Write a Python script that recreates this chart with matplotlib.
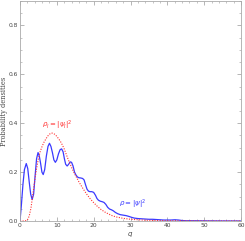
import matplotlib
matplotlib.use("Agg")
import matplotlib.pyplot as plt
from matplotlib.ticker import MultipleLocator

# Blue: rho = |psi|^2
q_blue = [0, 0.4, 0.8, 1.2, 1.7, 2.1, 2.5, 2.9, 3.3, 3.7, 4.1, 4.5, 4.9, 5.25, 5.6, 5.95,
          6.3, 6.7, 7.15, 7.6, 8.0, 8.4, 8.8, 9.2, 9.6, 10.0, 10.45, 10.9, 11.3, 11.7, 12.05,
          12.4, 12.8, 13.2, 13.6, 14.0, 14.4, 14.8, 15.2, 15.6, 16.0, 16.5, 17.0, 17.4, 17.8,
          18.2, 18.6, 19.0, 19.5, 20.0, 20.5, 20.9, 21.3, 21.8, 22.3, 22.8, 23.3, 23.8, 24.3,
          24.8, 25.3, 25.9, 26.5, 27.2, 28.0, 28.8, 29.5, 30.3, 31.0, 32, 33, 34, 35, 36, 37,
          38, 39, 40, 41, 42, 43, 44, 45, 47, 50, 55, 60]
p_blue = [0, 0.07, 0.15, 0.21, 0.235, 0.215, 0.16, 0.11, 0.088, 0.11, 0.185, 0.255, 0.28,
          0.265, 0.235, 0.2, 0.19, 0.21, 0.265, 0.305, 0.318, 0.305, 0.28, 0.25, 0.24, 0.25,
          0.275, 0.292, 0.295, 0.283, 0.255, 0.232, 0.225, 0.232, 0.242, 0.24, 0.225, 0.2,
          0.188, 0.18, 0.177, 0.176, 0.174, 0.168, 0.148, 0.13, 0.122, 0.12, 0.12, 0.117,
          0.105, 0.092, 0.085, 0.081, 0.079, 0.076, 0.068, 0.056, 0.049, 0.046, 0.042, 0.035,
          0.03, 0.026, 0.024, 0.022, 0.019, 0.015, 0.012, 0.01, 0.009, 0.008, 0.007, 0.007,
          0.006, 0.005, 0.004, 0.004, 0.004, 0.005, 0.004, 0.002, 0.001, 0.001, 0.0005,
          0.0002, 0.0]

# Red dotted: rho_I = |psi_I|^2
q_red = [0, 1, 1.5, 2, 2.5, 3, 3.5, 4, 4.5, 5, 5.5, 6, 6.5, 7, 7.5, 8, 8.5, 9, 9.5, 10,
         10.5, 11, 11.5, 12, 12.5, 13, 13.5, 14, 14.5, 15, 16, 17, 18, 19, 20, 21, 22, 23,
         24, 25, 26, 28, 30, 33, 36, 40, 45, 50, 60]
p_red = [0, 0.0, 0.001, 0.004, 0.02, 0.055, 0.11, 0.165, 0.215, 0.255, 0.285, 0.305, 0.322,
         0.335, 0.347, 0.355, 0.36, 0.359, 0.354, 0.346, 0.336, 0.325, 0.311, 0.295, 0.275,
         0.255, 0.237, 0.219, 0.203, 0.188, 0.16, 0.135, 0.112, 0.092, 0.075, 0.06, 0.047,
         0.037, 0.029, 0.022, 0.017, 0.011, 0.007, 0.004, 0.002, 0.001, 0.0005, 0.0002, 0.0]

x_ticks = [0, 10, 20, 30, 40, 50, 60]
y_ticks = [0.0, 0.2, 0.4, 0.6, 0.8]

fig = plt.figure(figsize=(2.45, 2.41), dpi=100)
ax = fig.add_axes([20/245, 20/241, 221/245, 220/241])

ax.plot(q_blue, p_blue, color="#3a3aff", lw=0.9)
ax.plot(q_red, p_red, color="#ff3030", lw=0.8, ls=(0, (1, 1.3)))

ax.set_xlim(0, 60)
ax.set_ylim(0, 0.9)
ax.set_xticks(x_ticks)
ax.set_yticks(y_ticks)
ax.set_xticklabels([str(t) for t in x_ticks])
ax.set_yticklabels([f"{t:.1f}" for t in y_ticks])
ax.xaxis.set_minor_locator(MultipleLocator(2))
ax.yaxis.set_minor_locator(MultipleLocator(0.05))
ax.tick_params(which="both", direction="in", top=True, right=True, colors="#999999",
               labelcolor="#444444", labelsize=4.3, pad=1.2)
ax.tick_params(which="major", length=3, width=0.5)
ax.tick_params(which="minor", length=1.5, width=0.4)
for s in ax.spines.values():
    s.set_color("#aaaaaa")
    s.set_linewidth(0.6)

ax.set_xlabel(r"$q$", fontsize=5, color="#444444", labelpad=2)
ax.set_ylabel("Probability densities", fontsize=4.8, color="#444444",
              family="DejaVu Serif")
ax.yaxis.set_label_coords(-0.055, 0.5)

ax.text(10, 0.39, r"$\rho_I = |\psi_I|^2$", color="#ff3030", fontsize=5,
        ha="center", va="center")
ax.text(27.0, 0.07, r"$\rho = |\psi|^2$", color="#3a3aff", fontsize=5,
        ha="left", va="center")

fig.savefig("out.png", dpi=100)
